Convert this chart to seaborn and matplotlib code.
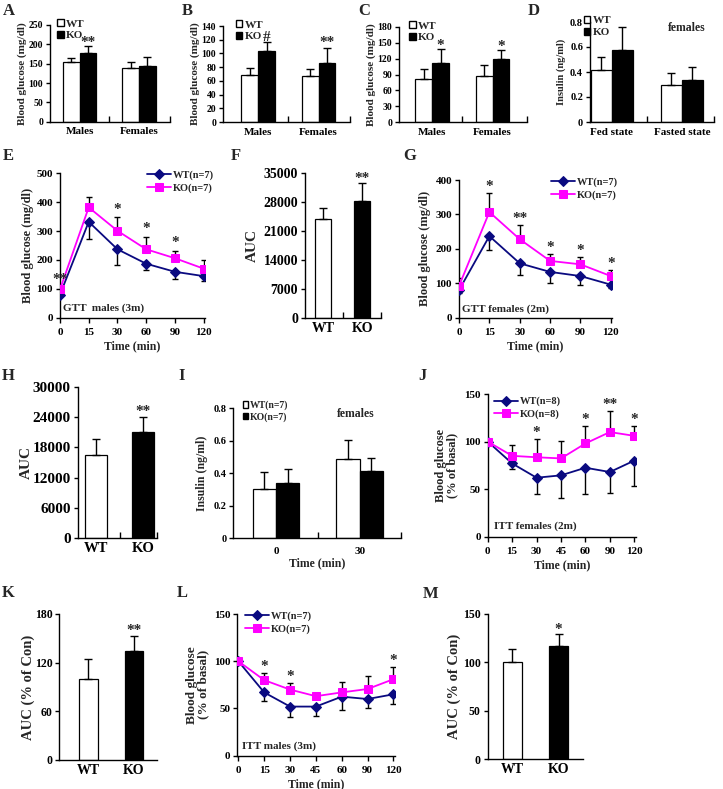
import numpy as np
import pandas as pd
import matplotlib
matplotlib.use("Agg")
import matplotlib.pyplot as plt
import seaborn as sns
from matplotlib.patches import Patch

# %% datos
grupos = ["WT", "KO"]
sexo = ["Males", "Females"]
estado = ["Fed state", "Fasted state"]
t_gtt = ["0", "15", "30", "60", "90", "120"]
t_itt = ["0", "15", "30", "45", "60", "90", "120"]
t_ins = ["0", "30"]

# A, B, C: glucosa en sangre (mg/dl)
a_wt, a_wt_err = [155, 139], [10, 15]
a_ko, a_ko_err = [178, 145], [18, 21]
a_sig = ["**", ""]
b_wt, b_wt_err = [69, 67], [10, 10]
b_ko, b_ko_err = [103, 86], [13, 22]
b_sig = ["#", "**"]
c_wt, c_wt_err = [82, 87], [19, 21]
c_ko, c_ko_err = [111, 120], [27, 16]
c_sig = ["*", "*"]
# D: insulina (ng/ml)
d_wt, d_wt_err = [0.42, 0.30], [0.10, 0.09]
d_ko, d_ko_err = [0.58, 0.34], [0.18, 0.10]
# E: GTT machos
e_wt = [80, 332, 237, 187, 159, 144]
e_wt_err = [6, 61, 55, 22, 26, 17]
e_ko = [98, 382, 301, 237, 206, 170]
e_ko_err = [6, 35, 47, 44, 26, 30]
e_sig = ["**", "", "*", "*", "*", ""]
# F: AUC GTT machos
f_auc, f_err, f_sig = [23800, 28200], [2600, 4200], ["", "**"]
# G: GTT hembras
g_wt = [80, 237, 158, 133, 121, 96]
g_wt_err = [8, 40, 34, 31, 26, 11]
g_ko = [92, 307, 228, 165, 155, 121]
g_ko_err = [22, 54, 41, 19, 20, 19]
g_sig = ["", "*", "**", "*", "*", "*"]
# H: AUC GTT hembras
h_auc, h_err, h_sig = [16550, 21170], [3100, 2900], ["", "**"]
# I: insulina durante GTT
i_wt, i_wt_err = [0.305, 0.486], [0.10, 0.12]
i_ko, i_ko_err = [0.342, 0.416], [0.086, 0.078]
# J: ITT hembras
j_wt = [100, 77, 62, 64.5, 72.5, 68, 80]
j_wt_err = [0, 6, 17, 23.5, 28, 22.5, 27]
j_ko = [100, 85, 83.5, 82.3, 98, 110, 106]
j_ko_err = [0, 11, 19, 18, 18, 22, 10]
j_sig = ["", "", "*", "", "*", "**", "*"]
# K: AUC ITT hembras
k_auc, k_err, k_sig = [100, 134], [25, 19], ["", "**"]
# L: ITT machos
l_wt = [100, 67, 52, 52, 62.5, 60, 65]
l_wt_err = [0, 9, 11, 10.5, 14, 9, 10.5]
l_ko = [100, 80, 70, 63, 67, 70.6, 81]
l_ko_err = [0, 8, 7, 1, 11, 14, 13]
l_sig = ["", "*", "*", "", "", "", "*"]
# M: AUC ITT machos
m_auc, m_err, m_sig = [100, 117], [14, 12], ["", "*"]

azul = "#0a0a80"
rosa = "#ff00ff"

# %% estilo
sns.set_style("ticks")
plt.rcParams["font.family"] = ["Liberation Serif", "DejaVu Serif"]
plt.rcParams["font.weight"] = "bold"
plt.rcParams["axes.labelweight"] = "bold"
plt.rcParams["axes.linewidth"] = 1.0
plt.rcParams["axes.edgecolor"] = "black"
plt.rcParams["xtick.color"] = "black"
plt.rcParams["ytick.color"] = "black"

W, H = 723, 789
fig = plt.figure(figsize=(W / 100, H / 100), dpi=100)


def caja(l, t, r, b):
    return fig.add_axes([l / W, 1 - b / H, (r - l) / W, (b - t) / H])


def limpiar(ax, ymax, paso, fs, fmt="{:g}"):
    ax.spines[["top", "right"]].set_visible(False)
    ticks = np.arange(0, ymax + paso / 2, paso)
    ax.set_yticks(ticks)
    ax.set_yticklabels([fmt.format(v) for v in ticks], fontsize=fs)
    ax.set_ylim(0, ymax)
    ax.tick_params(axis="y", direction="out", length=3, width=1, pad=2)


def estrellas(ax, x, tope, marcas, fs=11, dy=0):
    for xi, yi, m in zip(x, tope, marcas):
        if m:
            ax.annotate(m, (xi, yi), xytext=(0, dy), textcoords="offset points",
                        ha="center", va="bottom", fontsize=fs)


def barras_hue(ax, cats, wt, wt_err, ko, ko_err, xlim, width=0.56):
    df = pd.DataFrame({"cat": cats * 2,
                       "grupo": ["WT"] * len(cats) + ["KO"] * len(cats),
                       "val": list(wt) + list(ko)})
    sns.barplot(data=df, x="cat", y="val", hue="grupo", hue_order=grupos,
                palette={"WT": "white", "KO": "black"}, edgecolor="black",
                linewidth=0.9, width=width, errorbar=None, legend=False, ax=ax)
    x = np.arange(len(cats))
    d = width / 4
    cero = np.zeros(len(cats))
    ax.errorbar(x - d, wt, yerr=[cero, wt_err], fmt="none", ecolor="black",
                elinewidth=1, capsize=3, capthick=1)
    ax.errorbar(x + d, ko, yerr=[cero, ko_err], fmt="none", ecolor="black",
                elinewidth=1, capsize=3, capthick=1)
    ax.set_xlim(*xlim)
    ax.set_xlabel("")
    ax.set_ylabel("")
    ax.tick_params(axis="x", which="major", length=0, pad=4)
    ax.set_xticks([0.5, xlim[1]], minor=True)
    ax.tick_params(axis="x", which="minor", direction="in", length=4, width=1)
    return x + d, np.array(ko) + np.array(ko_err)


def leyenda_barras(ax, etiquetas, x0, fs):
    manijas = [Patch(facecolor="white", edgecolor="black", linewidth=1),
               Patch(facecolor="black", edgecolor="black", linewidth=1)]
    ax.legend(manijas, etiquetas, loc="upper left", bbox_to_anchor=(x0, 1.06),
              frameon=False, fontsize=fs, handlelength=0.6, handleheight=0.6,
              handletextpad=0.2, labelspacing=0.2, borderpad=0, borderaxespad=0)


def barras_simples(ax, valores, errores, xlim, width, fs_x):
    df = pd.DataFrame({"grupo": grupos, "val": valores})
    sns.barplot(data=df, x="grupo", y="val", hue="grupo",
                palette={"WT": "white", "KO": "black"}, edgecolor="black",
                linewidth=0.9, width=width, errorbar=None, legend=False, ax=ax)
    x = np.arange(2)
    ax.errorbar(x, valores, yerr=[np.zeros(2), errores], fmt="none",
                ecolor="black", elinewidth=1, capsize=3, capthick=1)
    ax.set_xlim(*xlim)
    ax.set_xlabel("")
    ax.set_ylabel("")
    ax.tick_params(axis="x", which="major", length=0, pad=3, labelsize=fs_x)
    return x, np.array(valores) + np.array(errores)


def lineas(ax, tiempos, wt, wt_err, ko, ko_err, etiquetas, xlim):
    x = np.arange(len(tiempos))
    wt, ko = np.array(wt), np.array(ko)
    wt_err, ko_err = np.array(wt_err), np.array(ko_err)
    sns.lineplot(x=x, y=wt, color=azul, marker="D", markersize=5,
                 markeredgecolor=azul, linewidth=1.3, label=etiquetas[0],
                 ax=ax, zorder=3)
    sns.lineplot(x=x, y=ko, color=rosa, marker="s", markersize=5.5,
                 markeredgecolor=rosa, linewidth=1.3, label=etiquetas[1],
                 ax=ax, zorder=3)
    sw = wt_err > 0
    sk = ko_err > 0
    ax.errorbar(x[sw], wt[sw], yerr=[wt_err[sw], np.zeros(sw.sum())], fmt="none",
                ecolor="black", elinewidth=1, capsize=2.5, capthick=1, zorder=2)
    ax.errorbar(x[sk], ko[sk], yerr=[np.zeros(sk.sum()), ko_err[sk]], fmt="none",
                ecolor="black", elinewidth=1, capsize=2.5, capthick=1, zorder=2)
    ax.set_xticks(x)
    ax.set_xticklabels(tiempos, fontsize=8)
    ax.set_xlim(*xlim)
    ax.tick_params(axis="x", direction="out", length=3.5, width=1, pad=4)
    ax.set_xlabel("Time (min)", fontsize=8.5, labelpad=2)
    ax.set_ylabel("")
    return x, np.maximum(ko + ko_err, wt)


def leyenda_lineas(ax, x0, y0, fs=7.5):
    ax.legend(loc="upper left", bbox_to_anchor=(x0, y0), frameon=False,
              fontsize=fs, handlelength=2.3, handletextpad=0.2,
              labelspacing=0.3, borderpad=0, borderaxespad=0)


# %% A
ax = caja(50, 25, 170, 121.7)
xs, tope = barras_hue(ax, sexo, a_wt, a_wt_err, a_ko, a_ko_err, (-0.5, 1.52))
limpiar(ax, 250, 50, 7)
ax.tick_params(axis="x", labelsize=8)
ax.set_ylabel("Blood glucose (mg/dl)", fontsize=8, labelpad=1)
leyenda_barras(ax, grupos, 0.06, 8)
estrellas(ax, xs, tope, a_sig, dy=-2)

# %% B
ax = caja(223, 26, 350, 122)
xs, tope = barras_hue(ax, sexo, b_wt, b_wt_err, b_ko, b_ko_err, (-0.58, 1.52))
limpiar(ax, 140, 20, 7)
ax.tick_params(axis="x", labelsize=8)
ax.set_ylabel("Blood glucose (mg/dl)", fontsize=8, labelpad=1)
leyenda_barras(ax, grupos, 0.1, 8)
estrellas(ax, xs, tope, b_sig, dy=-1)

# %% C
ax = caja(399, 27, 527, 122)
xs, tope = barras_hue(ax, sexo, c_wt, c_wt_err, c_ko, c_ko_err, (-0.55, 1.57))
limpiar(ax, 180, 30, 7)
ax.tick_params(axis="x", labelsize=8)
ax.set_ylabel("Blood glucose (mg/dl)", fontsize=8, labelpad=1)
leyenda_barras(ax, grupos, 0.08, 8)
estrellas(ax, xs, tope, c_sig, dy=-2)

# %% D
ax = caja(590, 22, 714, 122)
barras_hue(ax, estado, d_wt, d_wt_err, d_ko, d_ko_err, (-0.31, 1.46), width=0.6)
limpiar(ax, 0.8, 0.2, 7.5)
ax.tick_params(axis="x", labelsize=8)
ax.set_ylabel("Insulin (ng/ml)", fontsize=7.5, labelpad=3)
leyenda_barras(ax, grupos, -0.05, 8)
ax.text(0.78, 1.0, "females", transform=ax.transAxes, ha="center", va="top",
        fontsize=8.5)

# %% E
ax = caja(60, 173.3, 205, 317.7)
xs, tope = lineas(ax, t_gtt, e_wt, e_wt_err, e_ko, e_ko_err,
                  ["WT(n=7)", "KO(n=7)"], (0, 5.05))
limpiar(ax, 500, 100, 8)
ax.set_ylabel("Blood glucose (mg/dl)", fontsize=9, labelpad=2)
leyenda_lineas(ax, 0.6, 1.02)
estrellas(ax, xs, tope, e_sig, dy=1)
ax.text(0.02, 0.03, "GTT  males (3m)", transform=ax.transAxes, fontsize=8,
        va="bottom")

# %% F
ax = caja(305, 172.7, 381, 317.7)
xs, tope = barras_simples(ax, f_auc, f_err, (-0.46, 1.48), 0.41, 10)
limpiar(ax, 35000, 7000, 10)
ax.set_xticks([0.5, 1.48], minor=True)
ax.tick_params(axis="x", which="minor", direction="in", length=4, width=1)
ax.set_ylabel("AUC", fontsize=11, labelpad=3)
estrellas(ax, xs, tope, f_sig, dy=-1)

# %% G
ax = caja(459, 180, 612, 317.7)
xs, tope = lineas(ax, t_gtt, g_wt, g_wt_err, g_ko, g_ko_err,
                  ["WT(n=7)", "KO(n=7)"], (0, 5.04))
limpiar(ax, 400, 100, 8)
ax.set_ylabel("Blood glucose (mg/dl)", fontsize=9, labelpad=3)
leyenda_lineas(ax, 0.6, 1.02)
estrellas(ax, xs, tope, g_sig, dy=0)
ax.text(0.02, 0.03, "GTT females (2m)", transform=ax.transAxes, fontsize=8,
        va="bottom")

# %% H
ax = caja(77.7, 387.3, 157, 537.7)
xs, tope = barras_simples(ax, h_auc, h_err, (-0.39, 1.29), 0.47, 10.5)
limpiar(ax, 30000, 6000, 11)
ax.set_xticks([0.5, 1.29], minor=True)
ax.tick_params(axis="x", which="minor", direction="in", length=4, width=1)
ax.set_ylabel("AUC", fontsize=11, labelpad=0)
estrellas(ax, xs, tope, h_sig, dy=-1)

# %% I
ax = caja(233.3, 408.3, 400.7, 538.3)
barras_hue(ax, t_ins, i_wt, i_wt_err, i_ko, i_ko_err, (-0.51, 1.49))
limpiar(ax, 0.8, 0.2, 7.5)
ax.tick_params(axis="x", labelsize=8, pad=6)
ax.set_xlabel("Time (min)", fontsize=8.5, labelpad=1)
ax.set_ylabel("Insulin (ng/ml)", fontsize=8.5, labelpad=4)
leyenda_barras(ax, ["WT(n=7)", "KO(n=7)"], 0.055, 7)
ax.text(0.62, 1.0, "females", transform=ax.transAxes, ha="left", va="top",
        fontsize=8.5)

# %% J
ax = caja(487.7, 394, 636, 536.7)
xs, tope = lineas(ax, t_itt, j_wt, j_wt_err, j_ko, j_ko_err,
                  ["WT(n=8)", "KO(n=8)"], (0, 6.07))
limpiar(ax, 150, 50, 8)
ax.set_ylabel("Blood glucose\n(% of basal)", fontsize=9, labelpad=4,
              linespacing=1.0)
leyenda_lineas(ax, 0.04, 0.98)
estrellas(ax, xs, tope, j_sig, dy=0)
ax.text(0.04, 0.04, "ITT females (2m)", transform=ax.transAxes, fontsize=8,
        va="bottom")

# %% K
ax = caja(59.3, 614, 156.7, 760)
xs, tope = barras_simples(ax, k_auc, k_err, (-0.64, 1.5), 0.41, 10)
limpiar(ax, 180, 60, 8.5)
ax.set_ylabel("AUC (% of Con)", fontsize=10.5, labelpad=0)
estrellas(ax, xs, tope, k_sig, dy=-1)

# %% L
ax = caja(237.3, 614, 395, 755.7)
xs, tope = lineas(ax, t_itt, l_wt, l_wt_err, l_ko, l_ko_err,
                  ["WT(n=7)", "KO(n=7)"], (-0.04, 6.06))
limpiar(ax, 150, 50, 8)
ax.set_ylabel("Blood glucose\n(% of basal)", fontsize=9.5, labelpad=3,
              linespacing=1.0)
leyenda_lineas(ax, 0.05, 1.02)
estrellas(ax, xs, tope, l_sig, dy=0)
ax.text(0.03, 0.03, "ITT males (3m)", transform=ax.transAxes, fontsize=8,
        va="bottom")

# %% M
ax = caja(487.7, 614, 582.7, 759)
xs, tope = barras_simples(ax, m_auc, m_err, (-0.53, 1.52), 0.41, 10)
limpiar(ax, 150, 50, 8.5)
ax.set_ylabel("AUC (% of Con)", fontsize=10.5, labelpad=1)
estrellas(ax, xs, tope, m_sig, dy=-1)

# %% letras de los paneles
letras = {"A": (9, 11), "B": (187, 11), "C": (364, 11), "D": (534, 11),
          "E": (8, 156), "F": (236, 156), "G": (410, 156),
          "H": (8, 376), "I": (182, 376), "J": (422, 376),
          "K": (8, 593), "L": (182, 593), "M": (431, 594)}
for letra, (px, py) in letras.items():
    fig.text(px / W, 1 - py / H, letra, fontsize=12, ha="center", va="center")

fig.savefig("out.png", dpi=100)
